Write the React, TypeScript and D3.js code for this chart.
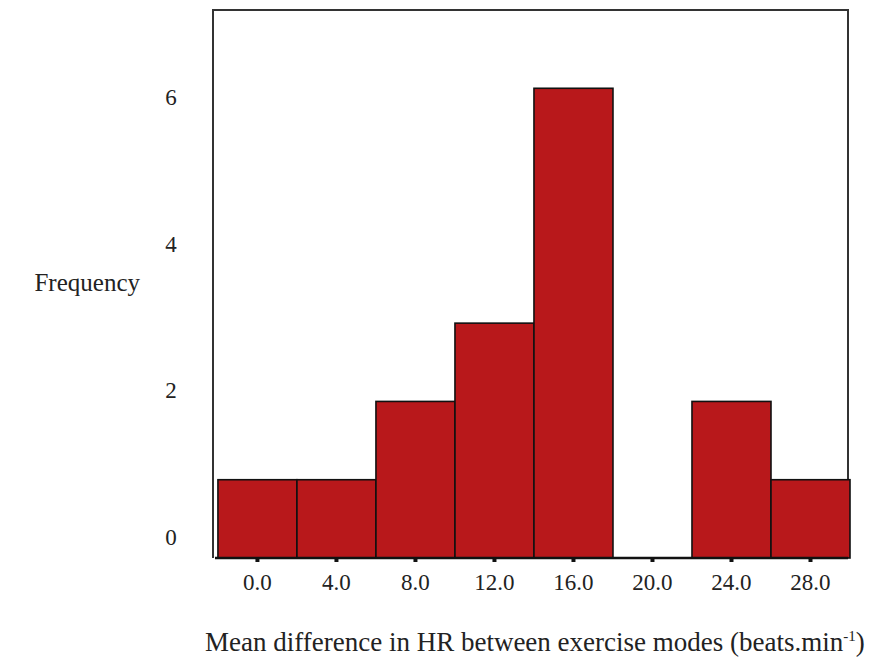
import React from "react";
import * as d3 from "d3";

// Histogram bins (centres) and counts
const binCenters = [0, 4, 8, 12, 16, 20, 24, 28];
const counts = [1, 1, 2, 3, 6, 0, 2, 1];
const binWidth = 4;
const xTickLabels = ["0.0", "4.0", "8.0", "12.0", "16.0", "20.0", "24.0", "28.0"];
const yTicks = [0, 2, 4, 6];

const W = 884;
const H = 662;
const FONT = "'Liberation Serif', 'Times New Roman', serif";

export default function App() {
  const x = d3.scaleLinear().domain([-2.25, 30]).range([213, 850]);
  const y = d3.scaleLinear().domain([0, 7]).range([558, 10]);
  // tick labels sit on a slightly compressed scale beside the axis
  const yLab = d3.scaleLinear().domain([0, 6]).range([537, 97]);

  const bars = binCenters.map((c, i) => ({
    x0: x(c - binWidth / 2),
    x1: x(c + binWidth / 2),
    v: counts[i],
  }));

  return (
    <svg
      width={W}
      height={H}
      style={{ position: "absolute", left: 0, top: 0, background: "#fff" }}
    >
      {/* frame: left, top, right */}
      <path
        d={`M${x(-2.25)},${y(0)} V${y(7)} H${x(30) - 2} V${y(0)}`}
        fill="none"
        stroke="#333"
        strokeWidth={2}
      />
      {/* bars */}
      {bars.map((b, i) =>
        b.v > 0 ? (
          <rect
            key={i}
            x={b.x0}
            y={y(b.v)}
            width={b.x1 - b.x0}
            height={y(0) - y(b.v)}
            fill="#b8181b"
            stroke="#111"
            strokeWidth={1.6}
          />
        ) : null
      )}
      {/* x axis line */}
      <line x1={x(-2.25) + 2} x2={x(30) - 2} y1={y(0)} y2={y(0)} stroke="#111" strokeWidth={2.5} />
      {/* x ticks */}
      {binCenters.map((c, i) => (
        <g key={i}>
          <rect x={x(c) - 2} y={y(0)} width={4} height={4} fill="#111" />
          <text
            x={x(c)}
            y={590}
            textAnchor="middle"
            fontFamily={FONT}
            fontSize={23}
            fill="#222"
          >
            {xTickLabels[i]}
          </text>
        </g>
      ))}
      {/* y tick labels */}
      {yTicks.map((t) => (
        <text
          key={t}
          x={171}
          y={yLab(t)}
          dy="0.35em"
          textAnchor="middle"
          fontFamily={FONT}
          fontSize={23}
          fill="#222"
        >
          {t}
        </text>
      ))}
      {/* axis titles */}
      <text x={140} y={291} textAnchor="end" fontFamily={FONT} fontSize={25} fill="#222">
        Frequency
      </text>
      <text x={205} y={651} fontFamily={FONT} fontSize={27} fill="#222">
        Mean difference in HR between exercise modes (beats.min
        <tspan dy={-10} fontSize={15}>-1</tspan>
        <tspan dy={10}>)</tspan>
      </text>
    </svg>
  );
}
